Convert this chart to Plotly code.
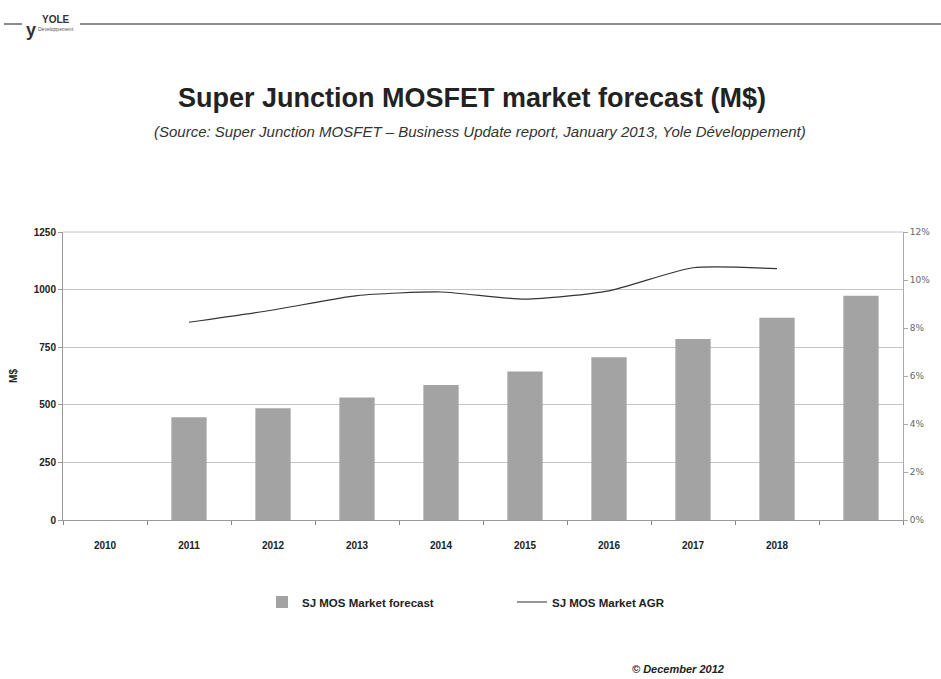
import plotly.graph_objects as go

years = ["2010", "2011", "2012", "2013", "2014", "2015", "2016", "2017", "2018", " "]
market_musd = [None, 446, 485, 532, 586, 645, 706, 786, 878, 973]
agr_pct = [None, 8.24, 8.75, 9.35, 9.5, 9.2, 9.55, 10.51, 10.47, None]

W, H = 941, 679
L, R, T, B = 63, 38, 232, 159
pw, ph = W - L - R, H - T - B

def px(x):
    return (x - L) / pw

def py(y):
    return (H - B - y) / ph

FONT = "Liberation Sans, Arial, sans-serif"

fig = go.Figure()
fig.add_trace(go.Bar(
    x=years, y=market_musd, name="SJ MOS Market forecast",
    marker=dict(color="#a3a3a3", line=dict(width=0)),
))
fig.add_trace(go.Scatter(
    x=years, y=agr_pct, name="SJ MOS Market AGR", yaxis="y2",
    mode="lines", line=dict(color="#333333", width=1.2, shape="spline", smoothing=0.6),
))

fig.update_layout(
    width=W, height=H,
    margin=dict(l=L, r=R, t=T, b=B),
    paper_bgcolor="white", plot_bgcolor="white",
    bargap=0.58,
    showlegend=True,
    legend=dict(
        orientation="h", x=px(262), xanchor="left", y=py(602), yanchor="middle",
        font=dict(family=FONT, size=11.5, color="#222", weight="bold"),
        entrywidth=205, bgcolor="rgba(0,0,0,0)",
    ),
    xaxis=dict(
        type="category", tickson="boundaries", ticks="outside", ticklen=4,
        tickcolor="#888", showline=True, linecolor="#999", linewidth=1,
        showgrid=False, tickfont=dict(family=FONT, size=10, color="#222", weight="bold"),
        range=[-0.5, 9.5], ticklabelstandoff=16,
    ),
    yaxis=dict(
        range=[0, 1250], dtick=250, showgrid=True, gridcolor="#c4c4c4", gridwidth=1,
        showline=True, linecolor="#999", linewidth=1, ticks="outside", ticklen=4,
        tickcolor="#999", tickfont=dict(family=FONT, size=10, color="#222", weight="bold"),
        title=dict(text="<b>M$</b>", font=dict(family=FONT, size=10, color="#222"), standoff=14),
        zeroline=False, mirror=False,
    ),
    yaxis2=dict(
        range=[0, 12], dtick=2, ticksuffix="%", overlaying="y", side="right",
        showgrid=False, showline=True, linecolor="#aaa", linewidth=1,
        ticks="outside", ticklen=4, tickcolor="#aaa",
        tickfont=dict(family="DejaVu Sans, sans-serif", size=9, color="#666"),
        zeroline=False,
    ),
)

# top border of plot
fig.add_shape(type="line", xref="paper", yref="paper", x0=0, x1=1, y0=1, y1=1,
              line=dict(color="#c4c4c4", width=1))

# header rule with logo
fig.add_shape(type="line", xref="paper", yref="paper", x0=px(4), x1=px(22), y0=py(24), y1=py(24),
              line=dict(color="#666", width=1.5))
fig.add_shape(type="line", xref="paper", yref="paper", x0=px(80), x1=px(941), y0=py(24), y1=py(24),
              line=dict(color="#666", width=1.5))

annos = [
    dict(text="<b>y</b>", x=px(31), y=py(30), font=dict(family=FONT, size=18, color="#333"), xanchor="center"),
    dict(text="<b>YOLE</b>", x=px(56), y=py(19), font=dict(family=FONT, size=10, color="#333"), xanchor="center"),
    dict(text="Développement", x=px(56), y=py(29), font=dict(family=FONT, size=5, color="#555"), xanchor="center"),
    dict(text="<b>Super Junction MOSFET market forecast (M$)</b>", x=px(472), y=py(98),
         font=dict(family=FONT, size=27, color="#222"), xanchor="center"),
    dict(text="<i>(Source: Super Junction MOSFET – Business Update report, January 2013, Yole Développement)</i>",
         x=px(480), y=py(131), font=dict(family=FONT, size=15, color="#333"), xanchor="center"),
    dict(text="<b><i>© December 2012</i></b>", x=px(678), y=py(669),
         font=dict(family=FONT, size=11, color="#222"), xanchor="center"),
]
for a in annos:
    a.update(xref="paper", yref="paper", showarrow=False, yanchor="middle")
    fig.add_annotation(**a)

fig.write_html("out.html", config={"displayModeBar": False},
               post_script="document.body.style.margin='0';document.body.style.overflow='hidden';")
